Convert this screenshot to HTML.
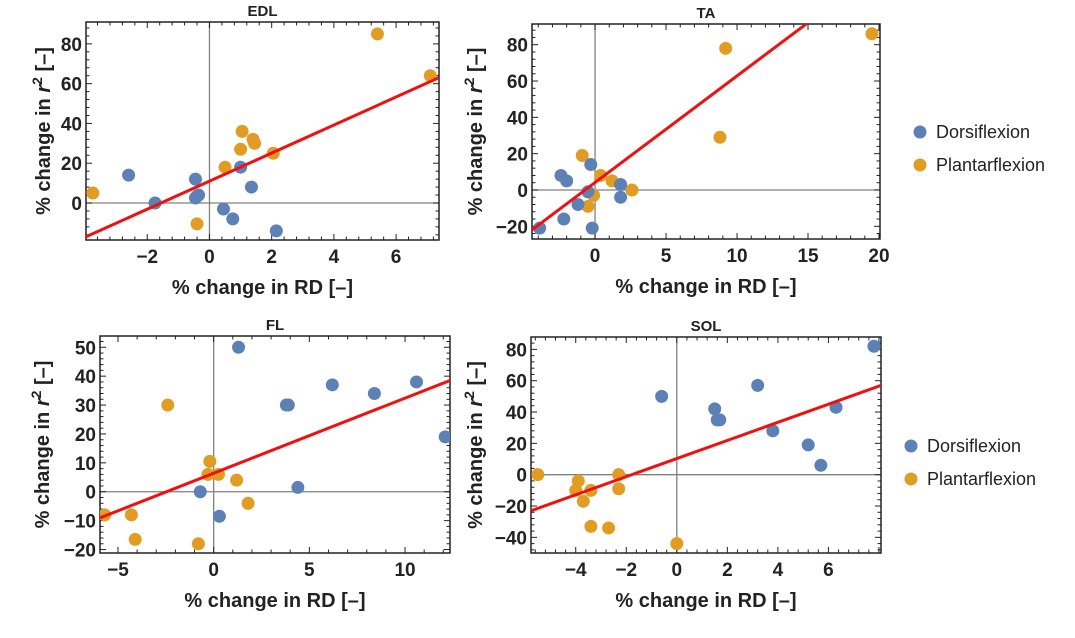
<!DOCTYPE html>
<html><head><meta charset="utf-8"><style>
body{margin:0;background:#fff;}
svg{display:block;font-family:"Liberation Sans",Arial,sans-serif;}
</style></head><body>
<svg id="c" width="1075" height="638"></svg>
<script>
const edlBlueX=[-2.6,-1.75,-0.45,-0.45,-0.35,-0.4,0.45,0.75,1.0,1.35,2.15];
const edlBlueY=[14,0,12,2.5,4,3.5,-3,-8,18,8,-14];
const edlOrX=[-3.75,-0.4,0.5,1.0,1.05,1.4,1.45,2.05,5.4,7.1];
const edlOrY=[5,-10.5,18,27,36,32,30,25,85,64];
const edlFit=[7.05,11];
const taBlueX=[-3.9,-2.4,-2.0,-2.2,-1.2,-0.5,-0.3,-0.2,1.8,1.8];
const taBlueY=[-21,8,5,-16,-8,-1,14,-21,3,-4];
const taOrX=[-0.9,0.4,1.2,-0.5,-0.1,2.6,8.8,9.2,19.5];
const taOrY=[19,8,5,-9,-3,0,29,78,86];
const taFit=[5.87,4.1];
const flBlueX=[1.3,3.8,3.9,6.2,8.4,10.6,12.1,4.4,-0.7,0.3];
const flBlueY=[50,30,30,37,34,38,19,1.5,0,-8.5];
const flOrX=[-2.4,-0.2,-0.3,0.25,1.2,1.8,-5.7,-4.3,-4.1,-0.8];
const flOrY=[30,10.5,6,6,4,-4,-8,-8,-16.5,-18];
const flFit=[2.6,6.4];
const solBlueX=[-0.6,1.5,1.6,1.7,3.2,3.8,5.2,5.7,6.3,7.8];
const solBlueY=[50,42,35,35,57,28,19,6,43,82];
const solOrX=[-5.5,-3.9,-4,-3.4,-3.7,-2.3,-2.3,-3.4,-2.7,0];
const solOrY=[0,-4,-10,-10,-17,0,-9,-33,-34,-44];
const solFit=[5.78,10.3];
const edlXTicks=[-2,0,2,4,6], edlYTicks=[0,20,40,60,80];
const taXTicks=[0,5,10,15,20], taYTicks=[-20,0,20,40,60,80];
const flXTicks=[-5,0,5,10], flYTicks=[-20,-10,0,10,20,30,40,50];
const solXTicks=[-4,-2,0,2,4,6], solYTicks=[-40,-20,0,20,40,60,80];
const legendLabels=["Dorsiflexion","Plantarflexion"];

const NS="http://www.w3.org/2000/svg";
const svg=document.getElementById('c');
function mk(tag,attrs,parent,text){const e=document.createElementNS(NS,tag);for(const k in attrs)e.setAttribute(k,attrs[k]);if(text!==undefined)e.textContent=text;(parent||svg).appendChild(e);return e;}
const BLUE="#5E81B5",OR="#E19C24";

function panel(o){
  const g=mk('g',{});
  
  
  const sx=v=>o.L+(v-o.x0)/(o.x1-o.x0)*(o.R-o.L);
  const sy=v=>o.B-(v-o.y0)/(o.y1-o.y0)*(o.B-o.T);
  const cp='cp'+o.name;
  const d=mk('defs',{},g);const c=mk('clipPath',{id:cp},d);mk('rect',{x:o.L,y:o.T,width:o.R-o.L,height:o.B-o.T},c);
  mk('line',{x1:sx(0),x2:sx(0),y1:o.T,y2:o.B,stroke:'#808080','stroke-width':1.3},g);
  mk('line',{x1:o.L,x2:o.R,y1:sy(0),y2:sy(0),stroke:'#808080','stroke-width':1.3},g);
  const xs=o.xt[1]-o.xt[0], ys=o.yt[1]-o.yt[0];
  const tg=mk('g',{stroke:'#222','stroke-width':1},g);
  for(let v=Math.ceil(o.x0/(xs/5))*(xs/5);v<=o.x1;v+=xs/5){
    const maj=Math.abs(v/xs-Math.round(v/xs))<1e-6;const l=maj?6:3.5;const x=sx(v);
    mk('line',{x1:x,x2:x,y1:o.B,y2:o.B-l},tg);mk('line',{x1:x,x2:x,y1:o.T,y2:o.T+l},tg);
  }
  for(let v=Math.ceil(o.y0/(ys/5))*(ys/5);v<=o.y1;v+=ys/5){
    const maj=Math.abs(v/ys-Math.round(v/ys))<1e-6;const l=maj?6:3.5;const y=sy(v);
    mk('line',{y1:y,y2:y,x1:o.L,x2:o.L+l},tg);mk('line',{y1:y,y2:y,x1:o.R,x2:o.R-l},tg);
  }
  o.xt.forEach(v=>{const t=mk('text',{x:sx(v),y:o.B+23,'text-anchor':'middle','font-size':19,'font-weight':'bold',fill:'#222'},g,v<0?'\u2212'+(-v):String(v));});
  o.yt.forEach(v=>{const t=mk('text',{x:o.L-4,y:sy(v)+7,'text-anchor':'end','font-size':19,'font-weight':'bold',fill:'#222'},g,v<0?'\u2212'+(-v):String(v));});
  mk('rect',{x:o.L,y:o.T,width:o.R-o.L,height:o.B-o.T,fill:'none',stroke:'#222','stroke-width':1.5},g);
  const pg=mk('g',{'clip-path':'url(#'+cp+')'},g);
  o.ox.forEach((x,i)=>{const p=mk('circle',{cx:sx(x),cy:sy(o.oy[i]),r:6.5,fill:OR},pg);});
  o.bx.forEach((x,i)=>{const p=mk('circle',{cx:sx(x),cy:sy(o.by[i]),r:6.5,fill:BLUE},pg);});
  const f=o.fit;
  const ln=mk('line',{x1:sx(o.x0),y1:sy(f[0]*o.x0+f[1]),x2:sx(o.x1),y2:sy(f[0]*o.x1+f[1]),stroke:'#F01010','stroke-width':3},pg);
  
  const ti=mk('text',{x:(o.L+o.R)/2,y:o.T-6,'text-anchor':'middle','font-size':15,'font-weight':'bold',fill:'#222'},g,o.name);
  
  const xl=mk('text',{x:(o.L+o.R)/2,y:o.B+54,'text-anchor':'middle','font-size':20,'font-weight':'bold',fill:'#222'},g,'% change in RD [\u2013]');
  
  const yc=(o.T+o.B)/2;
  const yl=mk('text',{x:0,y:0,transform:`translate(${o.yl},${yc}) rotate(-90)`,'text-anchor':'middle','font-size':20,'font-weight':'bold',fill:'#222'},g);
  
  mk('tspan',{},yl,'% change in ');mk('tspan',{'font-style':'italic'},yl,'r');mk('tspan',{dy:-8,'font-size':14},yl,'2');mk('tspan',{dy:8},yl,' [\u2013]');
}
panel({name:'EDL',L:86,R:439,T:22,B:240,x0:-3.97,x1:7.38,y0:-18.6,y1:91,xt:edlXTicks,yt:edlYTicks,bx:edlBlueX,by:edlBlueY,ox:edlOrX,oy:edlOrY,fit:edlFit,yl:50});
panel({name:'TA',L:532,R:880,T:24,B:239,x0:-4.44,x1:20.07,y0:-27,y1:91.4,xt:taXTicks,yt:taYTicks,bx:taBlueX,by:taBlueY,ox:taOrX,oy:taOrY,fit:taFit,yl:482});
panel({name:'FL',L:100,R:450,T:336,B:553,x0:-5.94,x1:12.35,y0:-21.2,y1:53.9,xt:flXTicks,yt:flYTicks,bx:flBlueX,by:flBlueY,ox:flOrX,oy:flOrY,fit:flFit,yl:49});
panel({name:'SOL',L:531,R:881,T:337,B:553,x0:-5.77,x1:8.08,y0:-50,y1:87.9,xt:solXTicks,yt:solYTicks,bx:solBlueX,by:solBlueY,ox:solOrX,oy:solOrY,fit:solFit,yl:482});
function legend(x,y){
  const g=mk('g',{});
  [BLUE,OR].forEach((col,i)=>{
    const e=mk('g',{},g);
    mk('circle',{cx:x,cy:y+i*33,r:6.5,fill:col},e);
    mk('text',{x:x+16,y:y+i*33+6,'font-size':18,fill:'#222'},e,legendLabels[i]);
  });
}
legend(920,132);legend(911,446);
</script>
</body></html>
